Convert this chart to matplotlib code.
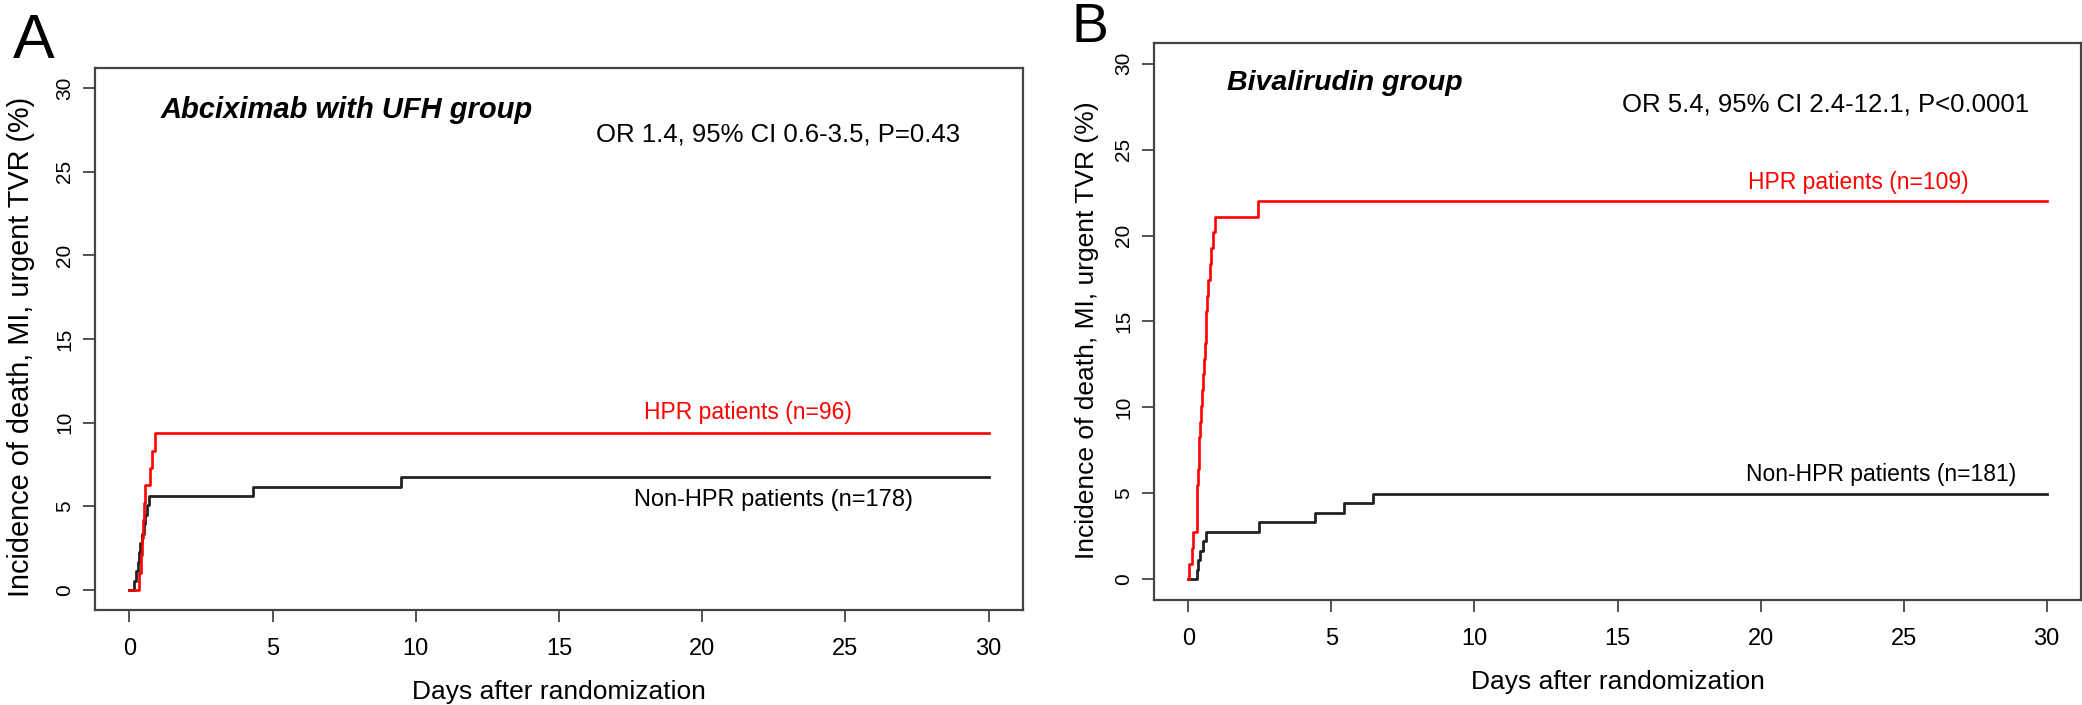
import matplotlib
matplotlib.use("Agg")
import matplotlib.pyplot as plt

plt.rcParams['font.family'] = ['Liberation Sans', 'DejaVu Sans']

# Panel A: Abciximab with UFH (step times in days, cumulative incidence in %)
a_hpr_days = [0, 0.35, 0.40, 0.44, 0.48, 0.52, 0.56, 0.72, 0.78, 0.88, 30]
a_hpr_pct = [0, 1.04, 2.08, 3.13, 4.17, 5.21, 6.25, 7.29, 8.33, 9.38, 9.38]
a_non_days = [0, 0.15, 0.22, 0.30, 0.35, 0.38, 0.45, 0.50, 0.55, 0.60, 0.67, 4.3, 9.5, 30]
a_non_pct = [0, 0.56, 1.12, 1.69, 2.25, 2.81, 3.37, 3.93, 4.49, 5.06, 5.62, 6.18, 6.74, 6.74]

# Panel B: Bivalirudin
b_hpr_days = [0, 0.02, 0.14, 0.18, 0.30, 0.31, 0.32, 0.33, 0.36, 0.39, 0.42, 0.45, 0.48,
              0.51, 0.54, 0.57, 0.60, 0.62, 0.64, 0.67, 0.74, 0.79, 0.85, 0.94, 2.45, 30]
b_hpr_pct = [0, 0.92, 1.83, 2.75, 3.67, 4.59, 5.50, 6.42, 7.34, 8.26, 9.17, 10.09, 11.01,
             11.93, 12.84, 13.76, 14.68, 15.60, 16.51, 17.43, 18.35, 19.27, 20.18, 21.10, 22.02, 22.02]
b_non_days = [0, 0.30, 0.34, 0.40, 0.52, 0.62, 2.48, 4.43, 5.44, 6.46, 30]
b_non_pct = [0, 0.55, 1.10, 1.66, 2.21, 2.76, 3.31, 3.87, 4.42, 4.97, 4.97]

x_ticks = [0, 5, 10, 15, 20, 25, 30]
y_ticks = [0, 5, 10, 15, 20, 25, 30]
ylab = 'Incidence of death, MI, urgent TVR (%)'

W, H = 2082, 705
fig = plt.figure(figsize=(W / 100, H / 100), dpi=100)
axA = fig.add_axes([95 / W, 1 - 610 / H, (1023 - 95) / W, (610 - 68) / H])
axB = fig.add_axes([1154 / W, 1 - 600 / H, (2081 - 1154) / W, (600 - 43) / H])

for ax in (axA, axB):
    ax.set_xlim(-1.2, 31.2)
    ax.set_ylim(-1.2, 31.2)
    ax.set_xticks(x_ticks)
    ax.set_yticks(y_ticks)
    ax.tick_params(direction='out', length=8.4, width=1.3, color='#444444')
    ax.tick_params(axis='x', labelsize=17, pad=12)
    ax.tick_params(axis='y', labelsize=15, pad=6.5)
    for lbl in ax.get_yticklabels():
        lbl.set_rotation(90)
        lbl.set_va('center')
    for s in ax.spines.values():
        s.set_color('#444444')
        s.set_linewidth(1.6)
    ax.set_xlabel('Days after randomization', fontsize=19, labelpad=14)

axA.set_ylabel(ylab, fontsize=20.8, va='center')
axA.yaxis.set_label_coords(-0.080, 0.485)
axB.set_ylabel(ylab, fontsize=19, va='center')
axB.yaxis.set_label_coords(-0.072, 0.484)

axA.step(a_non_days, a_non_pct, where='post', color='#222222', lw=2.0)
axA.step(a_hpr_days, a_hpr_pct, where='post', color='#ff0000', lw=1.9)
axA.text(1.08, 28.7, 'Abciximab with UFH group', fontsize=21, fontweight='bold',
         fontstyle='italic', va='center', ha='left')
axA.text(29.0, 27.2, 'OR 1.4, 95% CI 0.6-3.5, P=0.43', fontsize=18.5, va='center', ha='right')
axA.text(21.6, 10.6, 'HPR patients (n=96)', fontsize=16.5, color='#ff0000', va='center', ha='center')
axA.text(22.5, 5.4, 'Non-HPR patients (n=178)', fontsize=17, va='center', ha='center')

axB.step(b_non_days, b_non_pct, where='post', color='#222222', lw=2.0)
axB.step(b_hpr_days, b_hpr_pct, where='post', color='#ff0000', lw=1.9)
axB.text(1.36, 28.9, 'Bivalirudin group', fontsize=20.5, fontweight='bold',
         fontstyle='italic', va='center', ha='left')
axB.text(29.4, 27.6, 'OR 5.4, 95% CI 2.4-12.1, P<0.0001', fontsize=18.5, va='center', ha='right')
axB.text(23.4, 23.1, 'HPR patients (n=109)', fontsize=16.5, color='#ff0000', va='center', ha='center')
axB.text(24.2, 6.1, 'Non-HPR patients (n=181)', fontsize=16.5, va='center', ha='center')

fig.text(13 / W, 1 - 58 / H, 'A', fontsize=45, ha='left', va='baseline')
fig.text(1071 / W, 1 - 42 / H, 'B', fontsize=40, ha='left', va='baseline')

fig.savefig('out.png', dpi=100)
